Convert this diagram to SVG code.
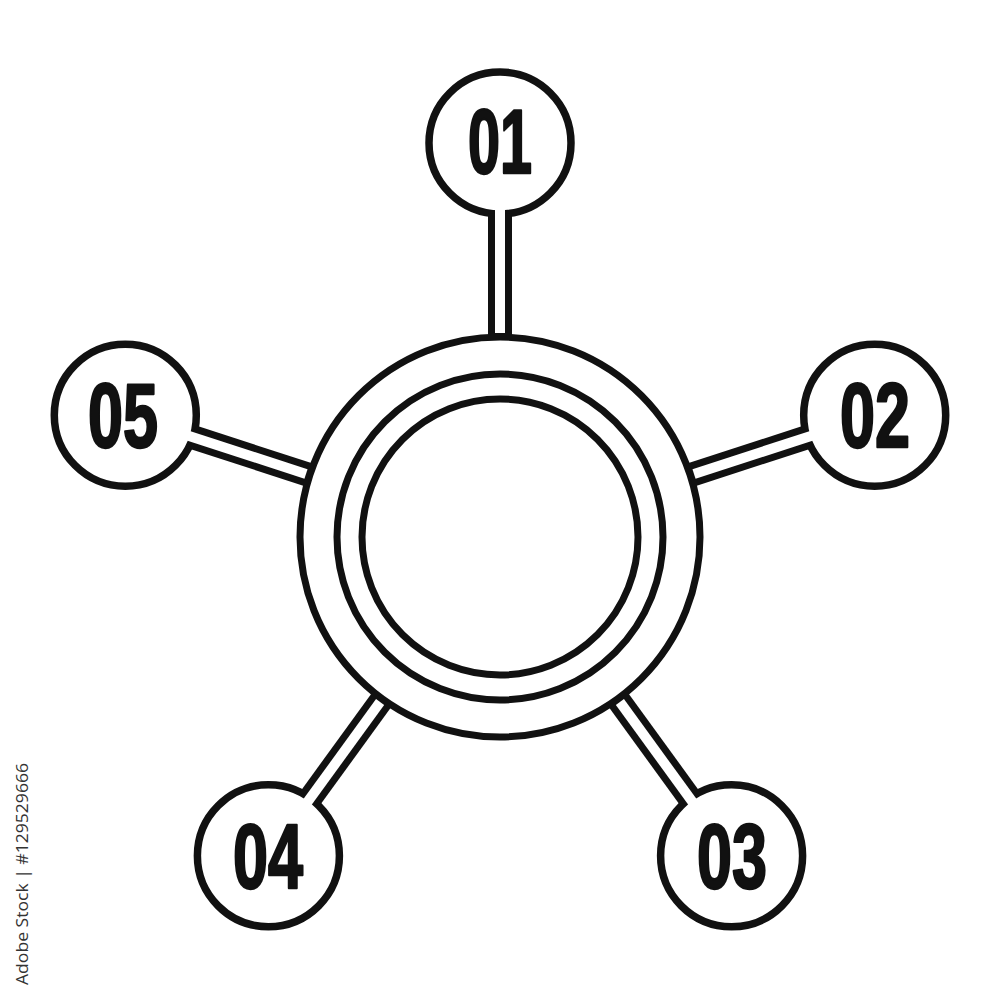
<svg xmlns="http://www.w3.org/2000/svg" width="1000" height="1000" viewBox="0 0 1000 1000">
<style>
.ring{fill:none;stroke:#111;stroke-width:7}
.node circle{fill:#fff;stroke:#111;stroke-width:7.5}
.sb{stroke:#111;stroke-width:24;stroke-linecap:butt}
.sw{stroke:#fff;stroke-width:10;stroke-linecap:butt}
.num{font-family:"Liberation Sans",Arial,sans-serif;font-weight:bold;font-size:90px;fill:#111;stroke:#111;stroke-width:2.5;stroke-linejoin:round;text-anchor:middle}
.wm{font-family:"Open Sans","Liberation Sans",sans-serif;font-size:17px;fill:#333}
</style>
<rect width="1000" height="1000" fill="#fff"/>
<g id="hub">
<circle class="ring" cx="500" cy="537" r="200"/>
<circle class="ring" cx="500" cy="537" r="163"/>
<circle class="ring" cx="500" cy="537" r="138"/>
</g>
<g id="node01" class="node"><circle cx="500" cy="143" r="71"/></g>
<g id="node02" class="node"><circle cx="874.7" cy="415.2" r="71"/></g>
<g id="node03" class="node"><circle cx="731.6" cy="855.8" r="71"/></g>
<g id="node04" class="node"><circle cx="268.4" cy="855.8" r="71"/></g>
<g id="node05" class="node"><circle cx="125.3" cy="415.2" r="71"/></g>
<g id="connectors">
<g transform="translate(500 537) rotate(0)"><line class="sb" x1="0" y1="-199" x2="0" y2="-323.5"/><line class="sw" x1="0" y1="-204" x2="0" y2="-335"/></g>
<g transform="translate(500 537) rotate(72)"><line class="sb" x1="0" y1="-199" x2="0" y2="-323.5"/><line class="sw" x1="0" y1="-204" x2="0" y2="-335"/></g>
<g transform="translate(500 537) rotate(144)"><line class="sb" x1="0" y1="-199" x2="0" y2="-323.5"/><line class="sw" x1="0" y1="-204" x2="0" y2="-335"/></g>
<g transform="translate(500 537) rotate(216)"><line class="sb" x1="0" y1="-199" x2="0" y2="-323.5"/><line class="sw" x1="0" y1="-204" x2="0" y2="-335"/></g>
<g transform="translate(500 537) rotate(288)"><line class="sb" x1="0" y1="-199" x2="0" y2="-323.5"/><line class="sw" x1="0" y1="-204" x2="0" y2="-335"/></g>
</g>
<g id="labels">
<text class="num" x="500" y="173" textLength="64" lengthAdjust="spacingAndGlyphs">01</text>
<text class="num" x="875" y="447" textLength="70" lengthAdjust="spacingAndGlyphs">02</text>
<text class="num" x="732" y="888" textLength="70" lengthAdjust="spacingAndGlyphs">03</text>
<text class="num" x="268" y="888" textLength="70" lengthAdjust="spacingAndGlyphs">04</text>
<text class="num" x="123" y="447" textLength="70" lengthAdjust="spacingAndGlyphs">05</text>
</g>
<text class="wm" transform="translate(28 985) rotate(-90)" textLength="222" lengthAdjust="spacingAndGlyphs">Adobe Stock | #129529666</text>
</svg>
